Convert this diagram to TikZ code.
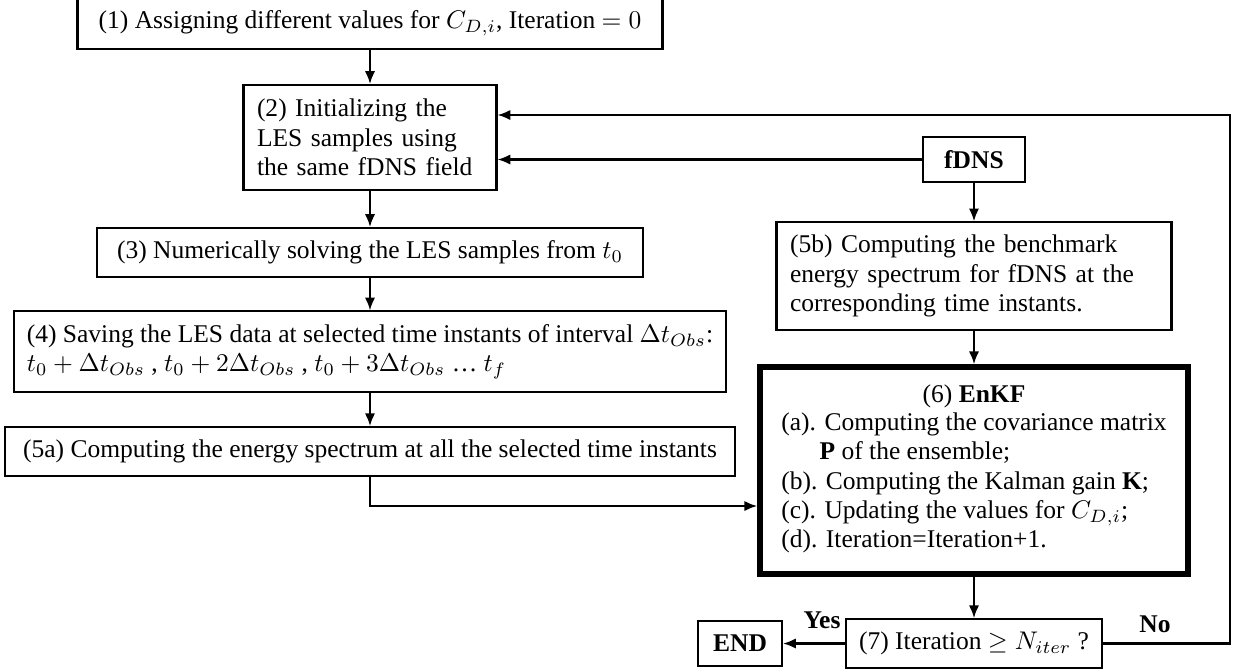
\documentclass[tikz,border=0pt]{standalone}
\usepackage{fontspec}
\setmainfont{Liberation Serif}
\usetikzlibrary{arrows.meta}

% one unit of the picture
\newcommand{\pxu}{0.392pt}

\tikzset{
  stepbox/.style={draw, line width=0.8pt, inner sep=5pt, align=left,
    font=\fontsize{10}{11.5}\selectfont},
  boxsize/.style 2 args={minimum width=#1*\pxu, minimum height=#2*\pxu},
  textw/.style={text width=#1*\pxu},
  flow/.style={-{Latex[length=5pt,width=4pt]}, line width=0.8pt},
  tag/.style={font=\fontsize{10}{11.5}\selectfont\bfseries},
}

\begin{document}
\begin{tikzpicture}[x=\pxu, y=-\pxu]
  \useasboundingbox (0,0) rectangle (1235,668);

  % left column: the LES runs
  \node[stepbox, boxsize={585}{43}] (s1) at (370,23.5) {(1) Assigning different values for $C_{D,i}$,\ Iteration $=0$};
  \node[stepbox, boxsize={253}{105}, textw=226] (s2) at (370,137.5) {(2) Initializing the\\LES samples using\\the same fDNS field};
  \node[stepbox, boxsize={546}{43}] (s3) at (370,252.5) {(3) Numerically solving the LES samples from $t_0$};
  \node[stepbox, boxsize={705}{77}] (s4) at (370,351.5) {(4) Saving the LES data at selected time instants of interval $\Delta t_{Obs}$:\\
    $t_0+\Delta t_{Obs}$ , $t_0+2\Delta t_{Obs}$ , $t_0+3\Delta t_{Obs}$ \dots\ $t_f$};
  \node[stepbox, boxsize={730}{43}] (s5a) at (370,451.5) {(5a) Computing the energy spectrum at all the selected time instants};

  % right column: benchmark and filter
  \node[stepbox, boxsize={102}{45}] (fdns) at (974,159.5) {\textbf{fDNS}};
  \node[stepbox, boxsize={395}{106}, textw=368] (s5b) at (974,276) {(5b) Computing the benchmark\\energy spectrum for fDNS at the\\corresponding time instants.};
  \node[stepbox, line width=2.2pt, boxsize={428}{207}, align=center] (s6) at (974,470.5) {(6) \textbf{EnKF}\\
    \begin{tabular}{@{}l@{}}
      (a). Computing the covariance matrix\\
      \hspace{1.5em}\textbf{P} of the ensemble;\\
      (b). Computing the Kalman gain \textbf{K};\\
      (c). Updating the values for $C_{D,i}$;\\
      (d). Iteration=Iteration+1.
    \end{tabular}};
  \node[stepbox, boxsize={244}{45}] (s7) at (974,643.5) {(7) Iteration $\geq N_{iter}$ ?};
  \node[stepbox, boxsize={84}{45}] (stop) at (740,643.5) {\textbf{END}};

  \node[tag] (yes) at (822,620) {Yes};
  \node[tag] (no) at (1155,624) {No};

  % connectors
  \draw[flow] (s1) -- (s2);
  \draw[flow] (s2) -- (s3);
  \draw[flow] (s3) -- (s4);
  \draw[flow] (s4) -- (s5a);
  \draw[flow] (fdns) -- (s2.east |- fdns);
  \draw[flow] (fdns) -- (s5b);
  \draw[flow] (s5b) -- (s6);
  \draw[flow] (s6) -- (s7);
  \draw[flow] (s7) -- (stop);

  \coordinate (bend) at (370,506);
  \draw[flow] (s5a.south) -- (bend) -- (s6.west |- bend);

  \coordinate (turn) at (1230,115);
  \draw[flow] (s7.east) -| (turn) -- (s2.east |- turn);
\end{tikzpicture}
\end{document}
